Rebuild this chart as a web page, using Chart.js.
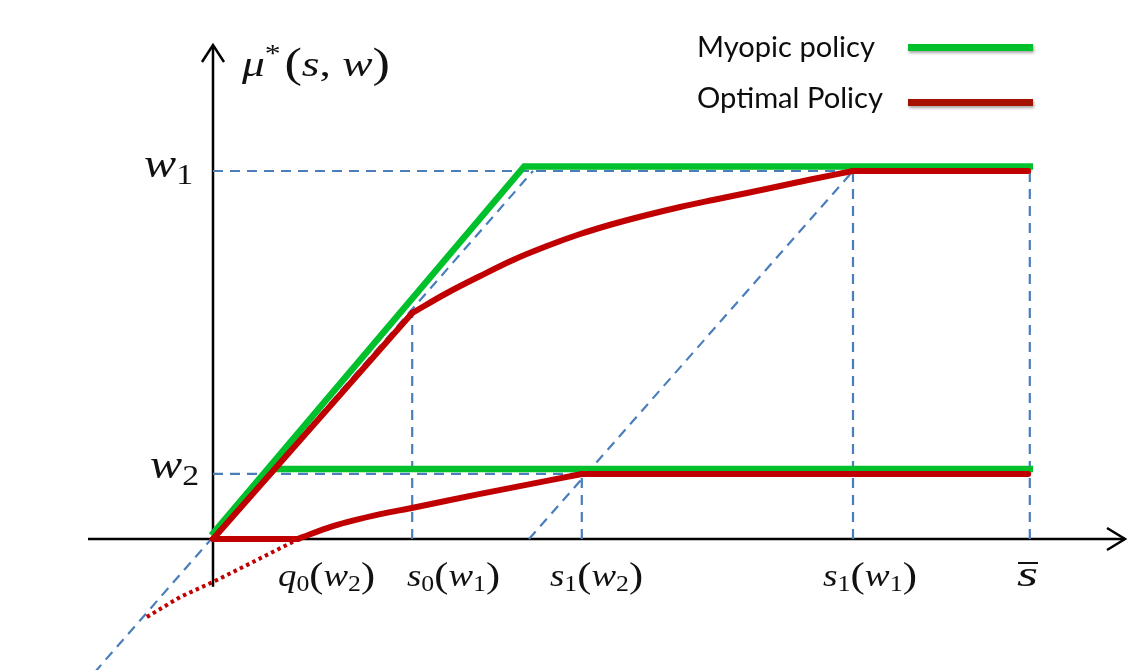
<!DOCTYPE html>
<html>
<head>
<meta charset="utf-8">
<script src="https://cdn.jsdelivr.net/npm/chart.js@4"></script>
<style>
  html, body { margin: 0; padding: 0; background: #ffffff; }
  #wrap { width: 1132px; height: 670px; }
</style>
</head>
<body>
<div id="wrap"><canvas id="c" width="1132" height="670"></canvas></div>
<script>
// ---- key values (abstract units: s along x, mu along y) ----
const W1 = 4.0;
const W2 = 0.707;
const Q0_W2 = 1.06;
const S0_W1 = 2.49;
const S1_W2 = 4.61;
const S1_W1 = 8.0;
const S_BAR = 10.21;

// ---- series ----
const myopicW1 = [[-0.02, 0.04], [3.89, 4.05], [10.25, 4.05]];
const myopicW2 = [[0.72, 0.76], [10.25, 0.76]];

const optimalW1Diag = [[0, 0], [2.49, 2.457]];
const optimalW1Curve = [[2.49, 2.457], [2.925, 2.674], [3.34, 2.859], [3.75, 3.033], [4.175, 3.185],
  [4.59, 3.315], [5.0, 3.424], [5.425, 3.522], [5.84, 3.609], [6.25, 3.685], [6.675, 3.761],
  [7.09, 3.837], [7.5, 3.913], [8.0, 4.0]];
const optimalW1Flat = [[8.0, 4.0], [10.19, 4.0]];
const optimalW2Flat0 = [[0, 0], [1.06, 0]];
const optimalW2Curve = [[1.06, 0], [1.5, 0.14], [2.09, 0.27], [2.5, 0.34], [3.34, 0.49], [4.61, 0.707]];
const optimalW2Flat = [[4.61, 0.707], [10.19, 0.707]];
const optimalExt = [[1.0, -0.03], [0.5, -0.25], [0, -0.467], [-0.41, -0.63], [-0.85, -0.86]];

// ---- guide (dashed) lines ----
const guideDiag1 = [[-1.48, -1.45], [4.0, 4.0]];
const guideDiag2 = [[3.95, 0], [8.0, 4.0]];
const guideW1 = [[0, W1], [S_BAR, W1]];
const guideW2 = [[0, W2], [S1_W2, W2]];
const guideS0W1 = [[S0_W1, 0], [S0_W1, 2.457]];
const guideS1W2 = [[S1_W2, 0], [S1_W2, W2]];
const guideS1W1 = [[S1_W1, 0], [S1_W1, W1]];
const guideSBar = [[S_BAR, 0], [S_BAR, W1]];

// ---- axes ----
const xAxisLine = [[-1.5625, 0], [11.4, 0]];
const yAxisLine = [[0, -0.52], [0, 5.37]];
const xArrow = [[11.175, 0.12], [11.4, 0], [11.175, -0.12]];
const yArrow = [[-0.1375, 5.185], [0, 5.37], [0.1375, 5.185]];

// ---- labels ----
const legendLabels = ['Myopic policy', 'Optimal Policy'];

const GREEN = 'rgb(0,192,44)';
const RED = 'rgb(192,0,0)';
const RED_LEG = 'rgb(165,18,0)';
const BLUE = 'rgb(74,126,187)';

const pts = a => a.map(p => ({ x: p[0], y: p[1] }));

function ds(data, color, width, extra) {
  return Object.assign({
    data: pts(data), showLine: true, borderColor: color, backgroundColor: color,
    borderWidth: width, pointRadius: 0, pointHoverRadius: 0, tension: 0,
    borderCapStyle: 'butt', borderJoinStyle: 'miter', fill: false
  }, extra || {});
}
const dash = { borderDash: [10, 7], order: 3 };
const redSeg = { order: 1, borderCapStyle: 'round', borderJoinStyle: 'round' };
const redCurve = { order: 1, borderCapStyle: 'round', borderJoinStyle: 'round', cubicInterpolationMode: 'monotone' };

const datasets = [
  ds(optimalW1Diag, RED, 6, redSeg),
  ds(optimalW1Curve, RED, 6, redCurve),
  ds(optimalW1Flat, RED, 6, redSeg),
  ds(optimalW2Flat0, RED, 6, redSeg),
  ds(optimalW2Curve, RED, 6, redCurve),
  ds(optimalW2Flat, RED, 6, redSeg),
  ds(optimalExt, RED, 4, { order: 1, borderDash: [3.5, 3.5] }),
  ds(myopicW1, GREEN, 6.5, { order: 2 }),
  ds(myopicW2, GREEN, 6.5, { order: 2 }),
  ds(guideDiag1, BLUE, 2.2, dash),
  ds(guideDiag2, BLUE, 2.2, dash),
  ds(guideW1, BLUE, 2.2, dash),
  ds(guideW2, BLUE, 2.2, dash),
  ds(guideS0W1, BLUE, 2.2, dash),
  ds(guideS1W2, BLUE, 2.2, dash),
  ds(guideS1W1, BLUE, 2.2, dash),
  ds(guideSBar, BLUE, 2.2, dash),
  ds(xAxisLine, '#000', 2.5, { order: 4 }),
  ds(yAxisLine, '#000', 2.5, { order: 4 }),
  ds(xArrow, '#000', 2.5, { order: 4 }),
  ds(yArrow, '#000', 2.5, { order: 4 })
];

// math-like text helper
const SERIF = '"Liberation Serif", "DejaVu Serif", serif';
function drawMath(ctx, parts, x, baseline, size, targetW) {
  const sizeOf = (p) => (p.sub || p.sup) ? size * 0.7 : (p.t === '(' || p.t === ')') ? size * 1.15 : size;
  const fontOf = (p) => (p.it ? 'italic ' : '') + sizeOf(p) + 'px ' + SERIF;
  let total = 0;
  const widths = parts.map(p => { ctx.font = fontOf(p); const w = ctx.measureText(p.t).width + (p.gap || 0) * size; total += w; return w; });
  const sc = targetW ? targetW / total : 1;
  ctx.save();
  ctx.translate(x, baseline);
  ctx.scale(sc, 1);
  ctx.fillStyle = '#111';
  ctx.textBaseline = 'alphabetic';
  ctx.textAlign = 'left';
  let cx = 0;
  parts.forEach((p, i) => {
    ctx.font = fontOf(p);
    let dy = 0;
    if (p.sub) dy = size * 0.17;
    if (p.sup) dy = -size * 0.38;
    if (p.t === '(' || p.t === ')') dy = size * 0.04;
    ctx.fillText(p.t, cx, dy);
    cx += widths[i];
  });
  ctx.restore();
}

function drawText(ctx, text, x, baseline, size, targetW, family) {
  ctx.save();
  ctx.font = size + 'px ' + family;
  const w = ctx.measureText(text).width;
  ctx.translate(x, baseline);
  ctx.scale(targetW / w, 1);
  ctx.fillStyle = '#0d0d0d';
  ctx.textBaseline = 'alphabetic';
  ctx.textAlign = 'left';
  ctx.fillText(text, 0, 0);
  ctx.restore();
}

const labelsPlugin = {
  id: 'labelsPlugin',
  afterDatasetsDraw(chart) {
    const ctx = chart.ctx;
    // y-axis title
    drawMath(ctx, [{ t: 'μ', it: true }, { t: '*', sup: true, gap: 0.08 }, { t: '(' }, { t: 's', it: true }, { t: ', ', gap: 0.0 }, { t: 'w', it: true }, { t: ')' }], 242, 76, 36, 148);
    // level labels
    drawMath(ctx, [{ t: 'w', it: true }, { t: '1', sub: true }], 144, 177, 42, 49);
    drawMath(ctx, [{ t: 'w', it: true }, { t: '2', sub: true }], 150, 478, 42, 49);
    // bottom labels
    const B = 586, FS = 32;
    drawMath(ctx, [{ t: 'q', it: true }, { t: '0', sub: true }, { t: '(' }, { t: 'w', it: true }, { t: '2', sub: true }, { t: ')' }], 278, B, FS, 97);
    drawMath(ctx, [{ t: 's', it: true }, { t: '0', sub: true }, { t: '(' }, { t: 'w', it: true }, { t: '1', sub: true }, { t: ')' }], 407, B, FS, 93);
    drawMath(ctx, [{ t: 's', it: true }, { t: '1', sub: true }, { t: '(' }, { t: 'w', it: true }, { t: '2', sub: true }, { t: ')' }], 550, B, FS, 93);
    drawMath(ctx, [{ t: 's', it: true }, { t: '1', sub: true }, { t: '(' }, { t: 'w', it: true }, { t: '1', sub: true }, { t: ')' }], 823, B, FS, 94);
    drawMath(ctx, [{ t: 's', it: true }], 1017, B, FS + 3, 21);
    ctx.save();
    ctx.fillStyle = '#111';
    ctx.fillRect(1018, 562, 20, 2);
    ctx.restore();

    // legend
    drawText(ctx, legendLabels[0], 697, 57, 28, 178, 'Lato, "Open Sans", sans-serif');
    drawText(ctx, legendLabels[1], 697, 108, 28, 186, 'Lato, "Open Sans", sans-serif');
    ctx.save();
    ctx.shadowColor = 'rgba(0,0,0,0.35)';
    ctx.shadowBlur = 3;
    ctx.shadowOffsetX = 1;
    ctx.shadowOffsetY = 2;
    ctx.fillStyle = GREEN;
    ctx.fillRect(908, 44, 125, 7);
    ctx.fillStyle = RED_LEG;
    ctx.fillRect(908, 99, 125, 7);
    ctx.restore();
  }
};

new Chart(document.getElementById('c'), {
  type: 'scatter',
  data: { datasets },
  options: {
    responsive: false,
    devicePixelRatio: 1,
    animation: false,
    layout: { padding: 0 },
    plugins: { legend: { display: false }, tooltip: { enabled: false } },
    scales: {
      x: { type: 'linear', min: -2.6625, max: 11.4875, display: false },
      y: { type: 'linear', min: -1.4239, max: 5.8587, display: false }
    }
  },
  plugins: [labelsPlugin]
});
</script>
</body>
</html>
